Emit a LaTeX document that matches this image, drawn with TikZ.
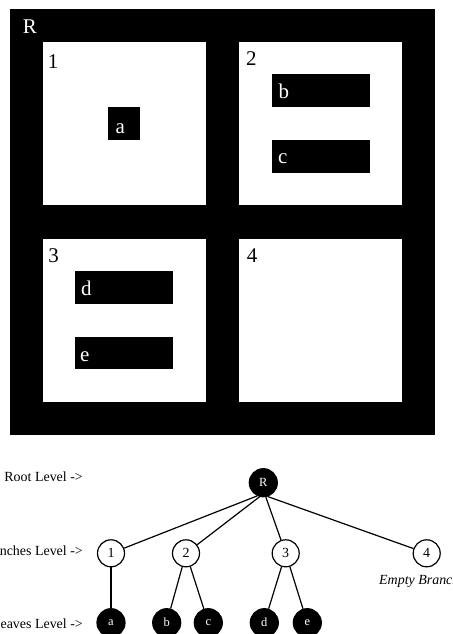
\documentclass[tikz,border=0pt]{standalone}
\usepackage{fontspec}
\setmainfont{Liberation Serif}
\begin{document}
\begin{tikzpicture}[x=1bp,y=-1bp,
  blk/.style={fill=black,draw=none},
  wht/.style={fill=white,draw=none},
  bigw/.style={font=\fontsize{21}{21}\selectfont,text=white,inner sep=0pt,anchor=base west},
  bigb/.style={font=\fontsize{21}{21}\selectfont,text=black,inner sep=0pt,anchor=base west},
  lvl/.style={font=\fontsize{14}{14}\selectfont,inner sep=0pt,anchor=base east},
  dnode/.style={circle,fill=black,draw=black,line width=1.2bp,minimum size=28bp,inner sep=0pt,text=white,font=\fontsize{12.5}{12.5}\selectfont},
  onode/.style={circle,fill=white,draw=black,line width=1.2bp,minimum size=27bp,inner sep=0pt,text=black,font=\fontsize{14}{14}\selectfont},
  edge/.style={line width=1.2bp}]
\clip (0,0) rectangle (453,634);
\fill[white] (0,0) rectangle (453,634);
% region map
\fill[blk] (9.5,9) rectangle (435,435);
\fill[wht] (42.5,41.7) rectangle (205.7,205);
\fill[wht] (239,41.7) rectangle (402.3,205);
\fill[wht] (42.5,238.7) rectangle (205.7,402);
\fill[wht] (239,238.7) rectangle (402.3,402);
\fill[blk] (107.7,107.3) rectangle (140.3,139.7);
\fill[blk] (271.7,74.3) rectangle (369.7,107.3);
\fill[blk] (271.7,140) rectangle (369.7,172.7);
\fill[blk] (75,271.3) rectangle (173.3,304);
\fill[blk] (75,337) rectangle (173.3,369.3);
\node[bigw] (tR) at (22.7,34) {R};
\node[bigb] (t1) at (47.7,68.3) {1};
\node[bigb] (t2) at (246,65.7) {2};
\node[bigb] (t3) at (48.3,262.3) {3};
\node[bigb] (t4) at (246.7,262.3) {4};
\node[bigw] (ta) at (115.3,133.3) {a};
\node[bigw] (tb) at (278.3,99) {b};
\node[bigw] (tc) at (278,163.3) {c};
\node[bigw] (td) at (81,295) {d};
\node[bigw] (te) at (80,361.7) {e};
% tree
\node[lvl] (lr) at (83,481.7) {Root Level ->};
\node[lvl] (lb) at (83,555) {Branches Level ->};
\node[lvl] (ll) at (83,628) {Leaves Level ->};
\node[dnode] (R) at (263.3,482.7) {R};
\node[onode] (n1) at (111,553.3) {1};
\node[onode] (n2) at (186,553.3) {2};
\node[onode] (n3) at (285.7,553.3) {3};
\node[onode] (n4) at (426.7,553.3) {4};
\node[dnode] (a) at (111,622.7) {a};
\node[dnode] (b) at (166.7,622.7) {b};
\node[dnode] (c) at (208.3,622.7) {c};
\node[dnode] (d) at (264.3,622.7) {d};
\node[dnode] (e) at (307.3,622.7) {e};
\node[font=\fontsize{14}{14}\selectfont\itshape,inner sep=0pt,anchor=base west] (eb) at (379,584) {Empty Branch};
\draw[edge] (R.-115) -- (n1);
\draw[edge] (R.-105) -- (n2);
\draw[edge] (R.-80) -- (n3);
\draw[edge] (R.-72) -- (n4);
\draw[edge] (n1) -- (a);
\draw[edge] (n2) -- (b);
\draw[edge] (n2) -- (c);
\draw[edge] (n3) -- (d);
\draw[edge] (n3) -- (e);
\end{tikzpicture}
\end{document}
